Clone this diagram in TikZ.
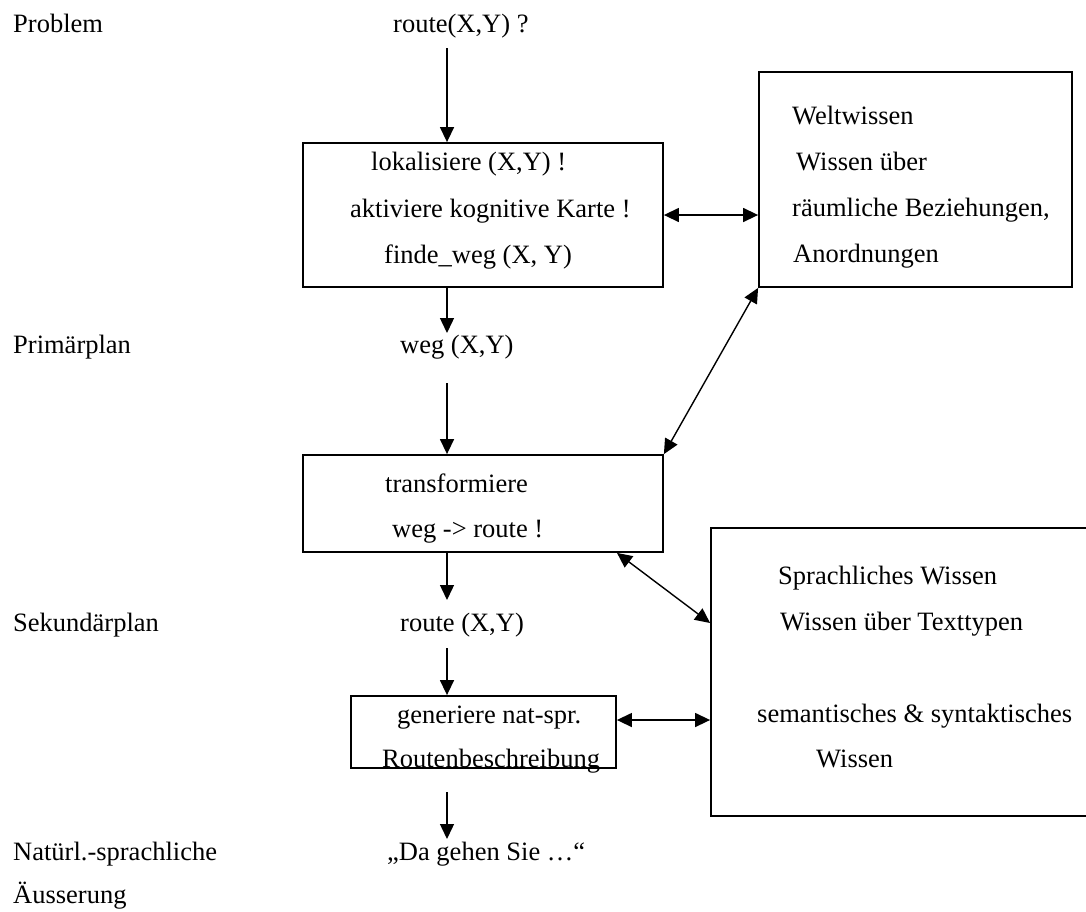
\documentclass[tikz,border=0pt]{standalone}
\usepackage{fontspec}
\setmainfont{Liberation Serif}
\usetikzlibrary{arrows.meta,calc}
\begin{document}
\begin{tikzpicture}[x=1pt,y=-1pt,
  box/.style={draw,line width=1.8pt,rectangle,inner sep=0pt},
  txt/.style={anchor=base west,inner sep=0pt,font=\fontsize{26.5}{30}\selectfont},
  conn/.style={line width=1.4pt,-{Triangle[length=15pt,width=14pt]}},
  dconn/.style={line width=1.4pt,{Triangle[length=15pt,width=14pt]}-{Triangle[length=15pt,width=14pt]}}]
\useasboundingbox (0,0) rectangle (1086,911);
% boxes
\node[box,minimum width=360pt,minimum height=144pt] (b1) at (483,215) {};
\node[box,minimum width=313pt,minimum height=215pt] (welt) at (915.5,179.5) {};
\node[box,minimum width=360pt,minimum height=97pt] (b2) at (483,503.5) {};
\node[box,minimum width=379pt,minimum height=288pt] (sprach) at (900.5,672) {};
\node[box,minimum width=265pt,minimum height=72pt] (gen) at (483.5,732) {};
% left labels
\node[txt] (lProblem) at (13,32) {Problem};
\node[txt] (lPrim) at (13,353) {Primärplan};
\node[txt] (lSek) at (13,631) {Sekundärplan};
\node[txt] (lNat) at (13,860) {Natürl.-sprachliche};
\node[txt] (lAeu) at (13,903) {Äusserung};
% middle column texts
\node[txt] (route0) at (393,32) {route(X,Y) ?};
\node[txt] (weg) at (400,353) {weg (X,Y)};
\node[txt] (route1) at (400,631) {route (X,Y)};
\node[txt] (da) at (387,860) {„Da gehen Sie …“};
% box texts
\node[txt] (t11) at (371,170) {lokalisiere (X,Y) !};
\node[txt] (t12) at (350,217) {aktiviere kognitive Karte !};
\node[txt] (t13) at (384,263) {finde\_weg (X, Y)};
\node[txt] (t21) at (385,492) {transformiere};
\node[txt] (t22) at (392,537) {weg -> route !};
\node[txt] (t31) at (397,723) {generiere nat-spr.};
\node[txt] (t32) at (382,767) {Routenbeschreibung};
\node[txt] (w1) at (792,124) {Weltwissen};
\node[txt] (w2) at (796,170) {Wissen über};
\node[txt] (w3) at (792,216) {räumliche Beziehungen,};
\node[txt] (w4) at (793,262) {Anordnungen};
\node[txt] (s1) at (778,584) {Sprachliches Wissen};
\node[txt] (s2) at (780,630) {Wissen über Texttypen};
\node[txt] (s3) at (757,722) {semantisches \& syntaktisches};
\node[txt] (s4) at (816,767) {Wissen};
% connector end points
\coordinate (c0) at (447,48);
\coordinate (c1) at (447,333);
\coordinate (c2) at (447,383);
\coordinate (c3) at (447,600);
\coordinate (c4) at (447,648);
\coordinate (c5) at (447,792);
\coordinate (c6) at (447,839);
\coordinate (cx) at (617,0);
\coordinate (cy) at (0,623);
% vertical flow
\draw[conn] (c0) -- (c0 |- b1.north);
\draw[conn] (c1 |- b1.south) -- (c1);
\draw[conn] (c2) -- (c2 |- b2.north);
\draw[conn] (c3 |- b2.south) -- (c3);
\draw[conn] (c4) -- (c4 |- gen.north);
\draw[conn] (c5) -- (c6);
% knowledge links
\draw[dconn] (b1.east) -- (welt.west |- b1.east);
\draw[dconn] (b2.north east) -- (welt.south west);
\draw[dconn] (cx |- b2.south) -- (sprach.west |- cy);
\draw[dconn] ([yshift=12pt]gen.east) -- ([yshift=12pt]gen.east -| sprach.west);
\end{tikzpicture}
\end{document}
